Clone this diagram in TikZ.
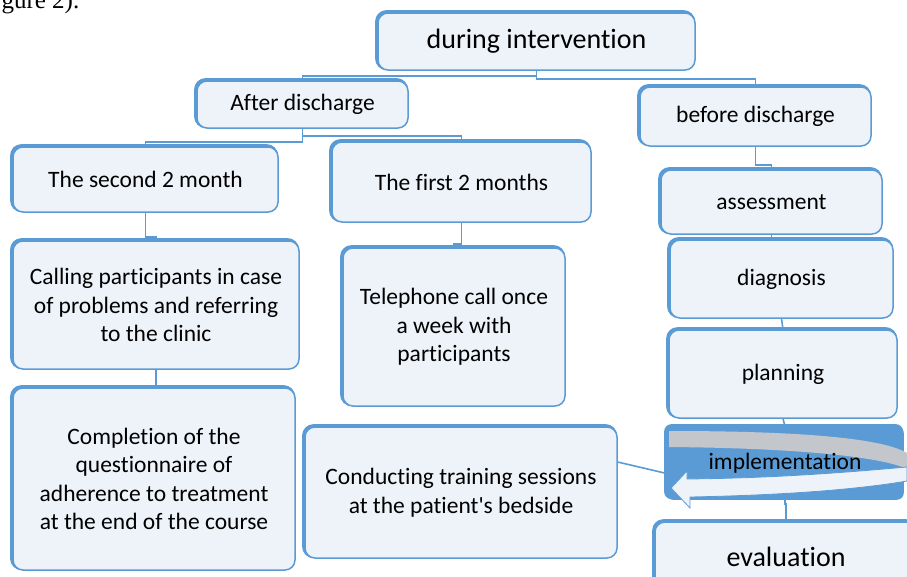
\documentclass[tikz,border=0pt]{standalone}
\usepackage{fontspec}
\setmainfont{Carlito}[Ligatures={NoCommon}]
\newfontfamily\pageserif{Liberation Serif}
\definecolor{mblue}{HTML}{5B9BD5}
\definecolor{boxfill}{HTML}{EEF3FA}
\definecolor{bandgray}{HTML}{C3C6CB}
\begin{document}
\begin{tikzpicture}[x=1pt, y=-1pt,
  stage/.style={draw=mblue, fill=boxfill, line width=1.5pt, rounded corners=10pt, align=center, inner sep=0pt,
    font=\fontsize{23.5}{28.5}\selectfont,
    preaction={draw=mblue, line width=3pt, transform canvas={xshift=-1.4pt, yshift=1.4pt}}},
  conn/.style={draw=mblue, line width=1.6pt}]
\useasboundingbox (0,0) rectangle (907,576);
\clip (0,0) rectangle (907,576);
\node[anchor=base west, font=\pageserif\fontsize{25}{30}\selectfont] (fig) at (-2,8) {gure 2).};
\node[stage, minimum width=317pt, minimum height=57pt, font=\fontsize{28}{33}\selectfont] (during) at (536.5,41.5) {during intervention};
\node[stage, minimum width=211pt, minimum height=47pt] (after) at (302.5,104.5) {After discharge};
\node[stage, minimum width=231pt, minimum height=59pt] (before) at (755.5,116.5) {before discharge};
\node[stage, minimum width=265pt, minimum height=65pt] (second) at (145.5,179.5) {The second 2 month};
\node[stage, minimum width=259pt, minimum height=80pt] (first) at (461.5,182) {The first 2 months};
\node[stage, minimum width=221pt, minimum height=64pt] (assess) at (771.5,202) {assessment};
\node[stage, minimum width=223pt, minimum height=78pt] (diag) at (781.5,279) {diagnosis};
\node[stage, minimum width=228pt, minimum height=88pt] (plan) at (783,374) {planning};
\node[stage, minimum width=236pt, minimum height=72pt, fill=mblue, rounded corners=6pt] (impl) at (785,463) {};
\node[stage, minimum width=262pt, minimum height=70pt, font=\fontsize{28}{33}\selectfont] (eval) at (786,557) {evaluation};
\node[stage, minimum width=286pt, minimum height=128pt] (calling) at (156,305) {Calling participants in case\\ of problems and referring\\ to the clinic};
\node[stage, minimum width=222pt, minimum height=158pt] (tele) at (454,327) {Telephone call once\\ a week with\\ participants};
\node[stage, minimum width=282pt, minimum height=182pt] (compl) at (154,479) {Completion of the\\ questionnaire of\\ adherence to treatment\\ at the end of the course};
\node[stage, minimum width=312pt, minimum height=131pt] (conduct) at (461,492.5) {Conducting training sessions\\ at the patient\textquotesingle s bedside};
% cycle arrow on implementation
\fill[bandgray] (669,431) .. controls (790,431) and (880,437) .. (907,453) -- (907,469) .. controls (880,456) and (790,448) .. (669,447) -- cycle;
\filldraw[fill=boxfill, draw=mblue, line width=0.8pt] (907,467) .. controls (850,472) and (780,478) .. (687,479) -- (687,471) -- (671,488) -- (690,508) -- (690,497) .. controls (790,495) and (860,489) .. (907,481) -- cycle;
\node[font=\fontsize{23.5}{28.5}\selectfont] (impltext) at (impl.center) {implementation};
\draw[conn] (during.south) -- ++(0,5) -| (after.north);
\draw[conn] (during.south) -- ++(0,8) -| (before.north);
\draw[conn] (after.south) -- ++(0,13) -| (second.north);
\draw[conn] (after.south) -- ++(0,7) -| (first.north);
\draw[conn] (before.south) -- ++(0,18) -| (assess.north);
\draw[conn] (second.south) -- ++(0,24) -| (calling.north);
\draw[conn] (calling.south) -- ++(0,16) -| (compl.north);
\draw[conn] (first.south) -- ++(0,21) -| (tele.north);
\draw[conn] (assess.south) -- ++(0,3) -| (diag.north);
\draw[conn] (diag.south) -- (plan.north);
\draw[conn] (plan.south) -- (impl.north);
\draw[conn] (impl.south) -- ++(0,4) -| (eval.north);
\draw[conn] (conduct.11) -- (impl.185);
\end{tikzpicture}
\end{document}
